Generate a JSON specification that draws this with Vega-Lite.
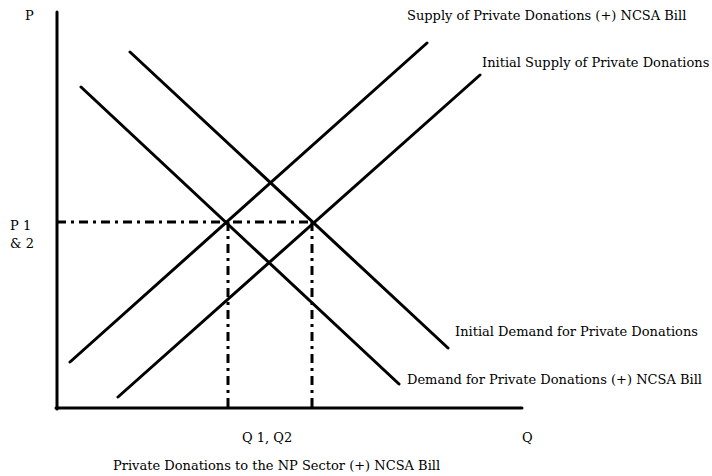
{
  "$schema": "https://vega.github.io/schema/vega-lite/v6.json",
  "autosize": {"type": "fit", "contains": "padding"},
  "width": 712,
  "height": 476,
  "padding": 0,
  "background": "white",
  "config": {"view": {"stroke": null}},
  "datasets": {
    "curves": [
      {"series": "P axis", "i": 0, "Q": 0, "P": 396},
      {"series": "P axis", "i": 1, "Q": 0, "P": -1},
      {"series": "Q axis", "i": 0, "Q": -1, "P": 0},
      {"series": "Q axis", "i": 1, "Q": 465, "P": 0},
      {"series": "Demand (+) NCSA Bill", "i": 0, "Q": 24, "P": 321},
      {"series": "Demand (+) NCSA Bill", "i": 1, "Q": 342, "P": 24},
      {"series": "Initial Demand", "i": 0, "Q": 73, "P": 356},
      {"series": "Initial Demand", "i": 1, "Q": 391, "P": 60},
      {"series": "Supply (+) NCSA Bill", "i": 0, "Q": 13, "P": 46},
      {"series": "Supply (+) NCSA Bill", "i": 1, "Q": 370, "P": 365},
      {"series": "Initial Supply", "i": 0, "Q": 61, "P": 11},
      {"series": "Initial Supply", "i": 1, "Q": 423, "P": 333}
    ],
    "guides": [
      {"seg": "P1&2", "i": 0, "Q": 0, "P": 186},
      {"seg": "P1&2", "i": 1, "Q": 255, "P": 186},
      {"seg": "Q1", "i": 0, "Q": 171, "P": 186},
      {"seg": "Q1", "i": 1, "Q": 171, "P": -1},
      {"seg": "Q2", "i": 0, "Q": 255, "P": 186},
      {"seg": "Q2", "i": 1, "Q": 255, "P": -1}
    ],
    "labels": [
      {"label": "P", "Q": -32, "P": 392},
      {"label": "P 1", "Q": -47, "P": 182},
      {"label": "& 2", "Q": -47, "P": 164},
      {"label": "Q 1, Q2", "Q": 185, "P": -30},
      {"label": "Q", "Q": 465, "P": -30},
      {"label": "Private Donations to the NP Sector (+) NCSA Bill", "Q": 56, "P": -58},
      {"label": "Supply of Private Donations (+) NCSA Bill", "Q": 350, "P": 392},
      {"label": "Initial Supply of Private Donations", "Q": 425, "P": 345},
      {"label": "Initial Demand for Private Donations", "Q": 398, "P": 76},
      {"label": "Demand for Private Donations (+) NCSA Bill", "Q": 350, "P": 28}
    ]
  },
  "layer": [
    {
      "data": {"name": "curves"},
      "mark": {"type": "line", "color": "black", "strokeWidth": 3, "strokeCap": "round"},
      "encoding": {
        "x": {"field": "Q", "type": "quantitative", "scale": {"domain": [-57, 655], "nice": false, "zero": false}, "axis": null},
        "y": {"field": "P", "type": "quantitative", "scale": {"domain": [-68, 408], "nice": false, "zero": false}, "axis": null},
        "detail": {"field": "series"},
        "order": {"field": "i", "type": "quantitative"}
      }
    },
    {
      "data": {"name": "guides"},
      "mark": {"type": "line", "color": "black", "strokeWidth": 3, "strokeDash": [9, 5, 3, 5]},
      "encoding": {
        "x": {"field": "Q", "type": "quantitative"},
        "y": {"field": "P", "type": "quantitative"},
        "detail": {"field": "seg"},
        "order": {"field": "i", "type": "quantitative"}
      }
    },
    {
      "data": {"name": "labels"},
      "mark": {"type": "text", "align": "left", "baseline": "middle", "font": "DejaVu Serif", "fontSize": 13, "color": "black"},
      "encoding": {
        "x": {"field": "Q", "type": "quantitative"},
        "y": {"field": "P", "type": "quantitative"},
        "text": {"field": "label"}
      }
    }
  ]
}
